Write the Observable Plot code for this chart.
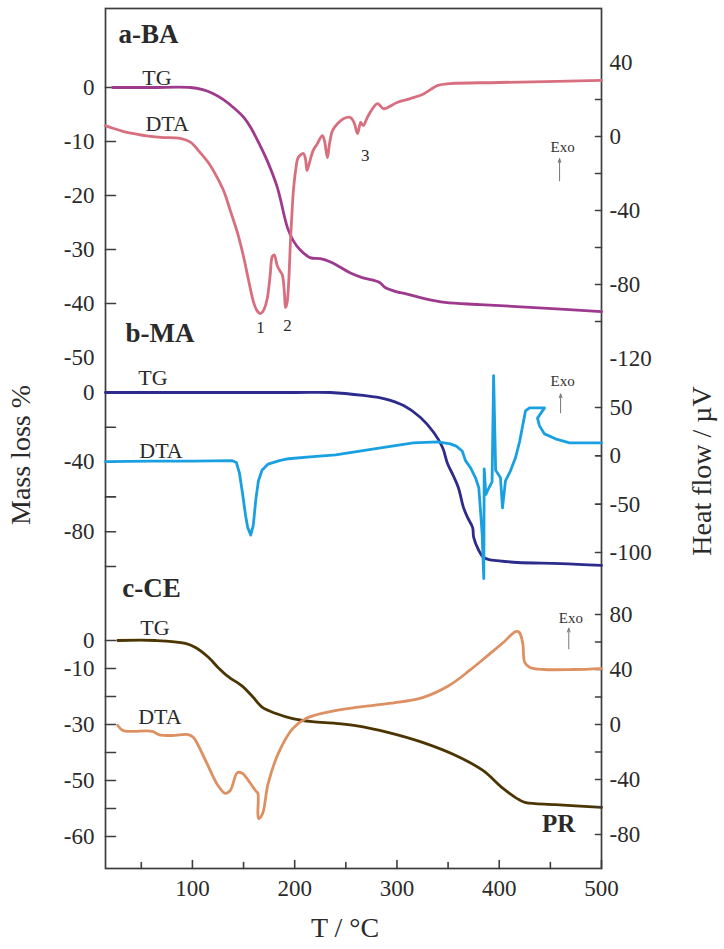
<!DOCTYPE html>
<html><head><meta charset="utf-8">
<script src="https://cdn.jsdelivr.net/npm/d3@7"></script>
<script src="https://cdn.jsdelivr.net/npm/@observablehq/plot@0.6"></script>
<style>
body{margin:0;background:#fff}
#wrap{position:relative;width:724px;height:949px;font-family:"Liberation Serif","Times New Roman",serif;color:#2a2a2a;background:#fff}
#wrap svg{position:absolute;left:0;top:0;overflow:visible}
.title{position:absolute;font-size:28px;white-space:nowrap;transform:translate(-50%,-50%)}
.rot{transform:translate(-50%,-50%) rotate(-90deg)}
</style></head>
<body><div id="wrap"></div>
<script>
// ---------- data (T in °C, values in each panel's units) ----------
// a-BA
const aTgT = [22,60,98,110,120,130,140,150,157,165,173,183,193,199,205,215,225,235,242,254,266,283,288,299,309,325,347,381,430,500];
const aTgV = [0,0,0,-0.4,-1.1,-2.2,-3.7,-5.5,-7.4,-10.3,-13.5,-18.5,-26,-28.5,-30,-31.5,-31.7,-32.3,-33,-34.3,-35.2,-36.1,-37,-37.8,-38.2,-39,-39.8,-40.2,-40.7,-41.5];
const aDtaT = [15,23,32,42,55,69,88,98,108,116,124,131,137,144,150,155,160,163,166.5,169.5,173,176,178,180,183,186,188,190,191,192.5,194,196,198,199,201,203.5,208.5,210.5,212,214,218,222,227,229,232,234,237,242,248,254.5,258,261.5,264.5,267,272,281,287,300,313,326,340,352,400,500];
const aDtaV = [5.9,4.3,2.8,1.6,0.3,-0.5,-1,-3,-9,-14.5,-22,-30,-40,-52,-65,-78,-90,-94,-95.7,-94,-88,-75,-65,-64,-70,-73,-75,-85,-92.4,-90,-80,-55,-35,-27.6,-18,-11.4,-9.2,-12,-18.4,-15,-7.6,-4,0.5,-2,-11.4,-4,3.2,7,9.7,10.3,7.6,1.6,7.6,5.9,11.4,17.8,15,18.4,20.5,23,27.6,28.6,29.2,30.3];
// b-MA
const bTgT = [15,100,200,235,267,287,306.5,323,336,344.6,349.4,355,360,365,369,374,375,380,384.6,390,398,418,460,500];
const bTgV = [0,0,0,0,-1.7,-3.5,-7.5,-14.4,-23,-31.6,-40.8,-47.7,-54.6,-66,-71.8,-77.6,-83.3,-90.8,-94.8,-96,-96.6,-97.7,-98.3,-99.4];
const bDtaT = [15,60,100,139,143,146,149,152,154,157,159.5,162,164.5,168,174,185,194,215,240,284,316,340,352,358,363.8,367,372,376.8,380,381.7,383.3,384.9,385.3,386.9,390,393,394.5,396.5,401.2,403.2,406.1,411,415.9,420,425.7,429.6,444.3,437.4,439.4,444.3,455,468.7,500];
const bDtaV = [-6,-5.5,-5.5,-5,-7,-18,-39,-62,-74,-82,-72,-45,-26,-15,-8.5,-5,-3,-1,1,8.3,13.4,14.5,12.4,10,5,-5,-12.4,-22.7,-33,-57,-80.7,-127,-13.4,-40,-33,-27,83,-15,-22.7,-53.8,-26,-15.5,-2,15,46.5,49.6,49.6,39,31,22.7,17.6,13.4,13.4];
// c-CE
const cTgT = [27,64,93,103,115.6,125,135,149,158.7,168.5,181,198,217,240,259.5,292,325,357,384,404,420,426,455,500];
const cTgV = [0,0,-1,-2.5,-6,-9.6,-12.9,-16.4,-20,-23.9,-26,-27.9,-29,-29.6,-30.4,-32.9,-36.4,-41,-46.4,-52.9,-57,-57.9,-58.6,-59.6];
const cDtaT = [27,32,41,61,67,80,96,101,112.7,125,132,137,144,149,155,161.6,164,164.5,168.5,174,184,198,211,230,259.5,292,325,351,371,391,404,416,419.6,423,425,430,444,473,500];
const cDtaV = [-0.7,-4.4,-5,-5,-7.3,-8,-7.3,-9.5,-26,-44.4,-50,-48,-35,-35.6,-41,-48,-50,-68.4,-65,-43,-21,-3,4.4,8.7,12.4,15.3,19.6,28.4,39.3,51.6,59.6,67.6,67,59,45,41.5,40,40,40.7];

// ticks
const xTicks = [100,200,300,400,500];
const xMinor = [50,150,250,350,450];
const aTgTickLabels = [0,-10,-20,-30,-40,-50];
const aTgTickMarks = [0,-10,-20,-30,-40];
const aDtaTickLabels = [40,0,-40,-80,-120];
const aDtaTickMarks = [20,0,-20,-40,-60,-80,-100];
const bTgTickLabels = [0,-40,-80];
const bTgTickMarks = [0,-20,-40,-60,-80,-100];
const bDtaTicks = [50,0,-50,-100];
const cTgTicks = [0,-10,-20,-30,-40,-50,-60,-70];
const cTgTickText = ["0","-10","","-30","","-50","","-60"];
const cDtaTickLabels = [80,40,0,-40,-80];
const cDtaTickMarks = [80,60,40,20,0,-20,-40,-60,-80];

// colours
const colATg = "#9e3a8e", colADta = "#d86f7f";
const colBTg = "#2d2b8c", colBDta = "#1aa0e0";
const colCTg = "#4b3502", colCDta = "#dd9163";

// ---------- layout ----------
const W = 724, H = 949, ML = 105, MR = 123, MT = 8, MB = 81;
const xDomain = [15, 500];
const axisCol = "#3d3d3d";
const font = '"Liberation Serif","Times New Roman",serif';
const tickShape = {draw(ctx, l) { ctx.moveTo(0, 0); ctx.lineTo(0, -l); }};

function chart(y, marks) {
  return Plot.plot({
    width: W, height: H, marginLeft: ML, marginRight: MR, marginTop: MT, marginBottom: MB,
    x: {domain: xDomain, axis: null},
    y: y ? {...y, label: null} : undefined,
    style: {background: "transparent", overflow: "visible", fontFamily: font, fontSize: "23px", color: "#2a2a2a"},
    marks
  });
}
const leftTicks = (vals) => Plot.vector(vals, {x: () => xDomain[0], y: d => d, length: 10, rotate: 90, anchor: "start", shape: tickShape, stroke: axisCol, strokeWidth: 1.6});
const rightTicks = (vals) => Plot.vector(vals, {x: () => xDomain[1], y: d => d, length: 6, rotate: -90, anchor: "start", shape: tickShape, stroke: axisCol, strokeWidth: 1.6});
const leftLabels = (vals, fmt) => Plot.axisY(vals, {anchor: "left", tickSize: 0, tickPadding: 11, tickFormat: fmt || (d => String(d)), label: null, fill: "#2a2a2a"});
const rightLabels = (vals) => Plot.axisY(vals, {anchor: "right", tickSize: 0, tickPadding: 8, tickFormat: d => String(d), label: null, fill: "#2a2a2a"});
const line = (T, V, col, curve) => Plot.line(T, {x: T, y: V, stroke: col, strokeWidth: 2.8, curve: curve || "catmull-rom"});
const note = (txt, x, y, o) => Plot.text([txt], {x: () => x, y: () => y, text: d => d, fill: "#2a2a2a", ...o});
const exoArrow = (x, y1, y2) => Plot.arrow([0], {x1: () => x, x2: () => x, y1: () => y1, y2: () => y2, stroke: "#777", strokeWidth: 1, headLength: 6, headAngle: 40});
const bold = {fontWeight: "bold", fontSize: 27, textAnchor: "start"};
const lab = {fontSize: 22, textAnchor: "start"};
const exo = {fontSize: 15, letterSpacing: "1.5px", textAnchor: "middle", fill: "#333"};

const wrap = document.getElementById("wrap");

// base: frame and x axis
wrap.append(Plot.plot({
  width: W, height: H, marginLeft: ML, marginRight: MR, marginTop: MT, marginBottom: MB,
  x: {domain: xDomain},
  style: {background: "transparent", overflow: "visible", fontFamily: font, fontSize: "23px", color: "#2a2a2a"},
  marks: [
    Plot.frame({stroke: axisCol, strokeWidth: 1.7}),
    Plot.axisX(xTicks, {anchor: "bottom", tickSize: 0, tickPadding: 11, tickFormat: d => String(d), label: null, fill: "#2a2a2a"}),
    Plot.vector(xTicks, {x: d => d, frameAnchor: "bottom", length: 8, rotate: 0, anchor: "start", shape: tickShape, stroke: axisCol, strokeWidth: 1.6}),
    Plot.vector(xMinor, {x: d => d, frameAnchor: "bottom", length: 6, rotate: 0, anchor: "start", shape: tickShape, stroke: axisCol, strokeWidth: 1.6})
  ]
}));

// panel a: TG (left) and DTA (right)
wrap.append(chart({domain: [0, -50], range: [87, 357]}, [
  leftTicks(aTgTickMarks), leftLabels(aTgTickLabels),
  line(aTgT, aTgV, colATg),
  note("a-BA", 27.6, 9.8, bold), note("TG", 51, 1.85, lab)
]));
wrap.append(chart({domain: [40, -120], range: [62, 358]}, [
  rightTicks(aDtaTickMarks), rightLabels(aDtaTickLabels),
  line(aDtaT, aDtaV, colADta),
  note("DTA", 54, 7, lab),
  note("1", 166.5, -103, {fontSize: 17}), note("2", 193, -102, {fontSize: 17}), note("3", 269, -10.3, {fontSize: 17}),
  note("Exo", 462, -6, exo), exoArrow(459, -24, -12)
]));

// panel b
wrap.append(chart({domain: [0, -100], range: [392, 566]}, [
  leftTicks(bTgTickMarks), leftLabels(bTgTickLabels),
  line(bTgT, bTgV, colBTg),
  note("b-MA", 34.5, 33.9, bold), note("TG", 47, 8.6, lab)
]));
wrap.append(chart({domain: [50, -100], range: [407, 552]}, [
  rightTicks(bDtaTicks), rightLabels(bDtaTicks),
  line(bDtaT, bDtaV, colBDta, "linear"),
  note("DTA", 48, 5.2, lab),
  note("Exo", 462, 77.6, exo), exoArrow(460, 44.5, 64)
]));

// panel c
wrap.append(chart({domain: [0, -70], range: [640, 836]}, [
  leftTicks(cTgTicks), leftLabels(cTgTicks, (d, i) => cTgTickText[cTgTicks.indexOf(d)]),
  line(cTgT, cTgV, colCTg),
  note("c-CE", 31.5, 18.6, bold), note("TG", 49, 4.6, lab),
  note("PR", 458, -65.4, {fontWeight: "bold", fontSize: 25, textAnchor: "middle"})
]));
wrap.append(chart({domain: [80, -80], range: [614, 834]}, [
  rightTicks(cDtaTickMarks), rightLabels(cDtaTickLabels),
  line(cDtaT, cDtaV, colCDta),
  note("DTA", 47, 5.8, lab),
  note("Exo", 470, 77, exo), exoArrow(468, 55, 70)
]));

// axis titles
function title(txt, x, y, rot) {
  const d = document.createElement("div");
  d.className = "title" + (rot ? " rot" : "");
  d.textContent = txt; d.style.left = x + "px"; d.style.top = y + "px";
  wrap.append(d);
}
title("Mass loss %", 21, 455, true);
title("Heat flow / µV", 702, 471, true);
title("T / °C", 345, 928, false);
</script></body></html>
